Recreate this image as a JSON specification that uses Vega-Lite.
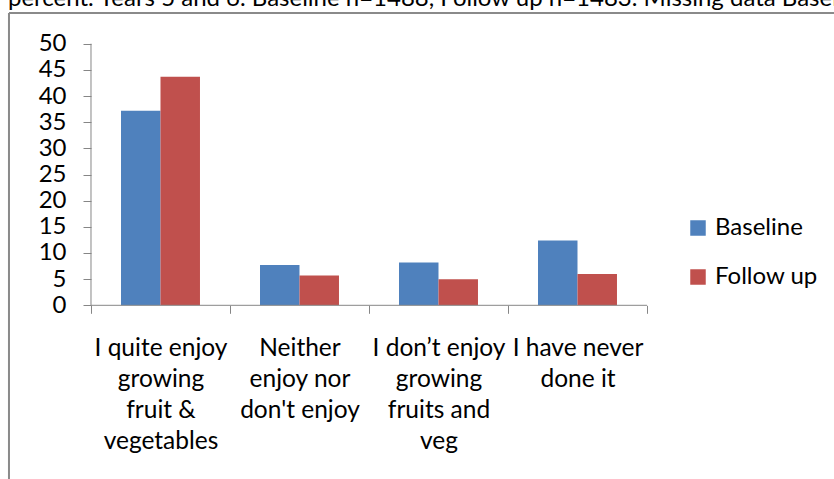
{
  "$schema": "https://vega.github.io/schema/vega-lite/v6.json",
  "width": 825,
  "height": 466,
  "autosize": {"type": "none"},
  "padding": {"left": 9, "top": 13, "right": 0, "bottom": 0},
  "background": "white",
  "title": {
    "text": "percent. Years 5 and 6. Baseline n=1488, Follow up n=1483. Missing data Baseline",
    "anchor": "start",
    "orient": "top",
    "frame": "group",
    "baseline": "alphabetic",
    "offset": 0,
    "dx": -1,
    "dy": 18,
    "font": "Lato",
    "fontSize": 24,
    "fontWeight": "normal",
    "color": "#000"
  },
  "config": {
    "view": {"stroke": null},
    "font": "Lato",
    "axis": {"grid": false, "domain": false, "title": null}
  },
  "layer": [
    {
      "data": {"values": [
        {"response": "I quite enjoy|growing|fruit &|vegetables", "series": "Baseline", "value": 37.2},
        {"response": "I quite enjoy|growing|fruit &|vegetables", "series": "Follow up", "value": 43.7},
        {"response": "Neither|enjoy nor|don't enjoy", "series": "Baseline", "value": 7.7},
        {"response": "Neither|enjoy nor|don't enjoy", "series": "Follow up", "value": 5.7},
        {"response": "I don’t enjoy|growing|fruits and|veg", "series": "Baseline", "value": 8.2},
        {"response": "I don’t enjoy|growing|fruits and|veg", "series": "Follow up", "value": 5.0},
        {"response": "I have never|done it", "series": "Baseline", "value": 12.4},
        {"response": "I have never|done it", "series": "Follow up", "value": 6.0}
      ]},
      "mark": {"type": "bar"},
      "encoding": {
        "x": {
          "field": "response", "type": "nominal", "sort": null,
          "scale": {
            "type": "band",
            "domain": ["I quite enjoy|growing|fruit &|vegetables", "Neither|enjoy nor|don't enjoy", "I don’t enjoy|growing|fruits and|veg", "I have never|done it"],
            "paddingInner": 0, "paddingOuter": 0.9676, "align": 0.3048
          },
          "axis": {
            "orient": "bottom", "offset": -173.7, "domain": false,
            "tickBand": "extent", "tickSize": 8, "tickColor": "#868686", "tickWidth": 1,
            "labelExpr": "datum.value ? split(datum.value, '|') : ''",
            "labelAngle": 0, "labelFontSize": 24.5, "labelColor": "#000",
            "labelLineHeight": 31, "labelPadding": 23, "labelLimit": 300,
            "labelOverlap": false, "labelBaseline": "top", "title": null
          }
        },
        "xOffset": {
          "field": "series", "type": "nominal",
          "scale": {"domain": ["Baseline", "Follow up"], "paddingInner": 0, "paddingOuter": 0.76}
        },
        "y": {
          "field": "value", "type": "quantitative",
          "scale": {"domain": [-33.2, 55.87], "nice": false, "zero": false},
          "axis": {
            "orient": "left", "offset": -82, "domain": false,
            "values": [0, 5, 10, 15, 20, 25, 30, 35, 40, 45, 50],
            "tickSize": 8, "tickColor": "#868686", "tickWidth": 1,
            "labelFontSize": 24, "labelColor": "#000", "labelPadding": 17, "title": null
          }
        },
        "color": {
          "field": "series", "type": "nominal",
          "scale": {"domain": ["Baseline", "Follow up"], "range": ["#4F81BD", "#C0504D"]},
          "legend": {
            "title": null, "orient": "none", "legendX": 677, "legendY": 203,
            "symbolType": "square", "symbolSize": 240, "symbolStrokeWidth": 0,
            "labelFontSize": 24, "labelColor": "#000", "labelOffset": 5,
            "rowPadding": 25, "padding": 0
          }
        }
      }
    },
    {
      "data": {"values": [{}]},
      "mark": {"type": "rule", "color": "#868686", "strokeWidth": 1},
      "encoding": {
        "x": {"datum": "I quite enjoy|growing|fruit &|vegetables", "type": "nominal", "bandPosition": 0},
        "y": {"datum": 0, "type": "quantitative"},
        "y2": {"datum": 50}
      }
    },
    {
      "data": {"values": [{}]},
      "mark": {"type": "rule", "color": "#868686", "strokeWidth": 1},
      "encoding": {
        "x": {"datum": "I quite enjoy|growing|fruit &|vegetables", "type": "nominal", "bandPosition": 0},
        "x2": {"datum": "I have never|done it", "bandPosition": 1},
        "y": {"datum": 0, "type": "quantitative"}
      }
    },
    {
      "data": {"values": [{}]},
      "mark": {"type": "rule", "color": "#8a8a8a", "strokeWidth": 2},
      "encoding": {
        "x": {"datum": "I quite enjoy|growing|fruit &|vegetables", "type": "nominal", "bandPosition": -0.59},
        "y": {"datum": 55.87, "type": "quantitative"},
        "y2": {"datum": -33.2}
      }
    },
    {
      "data": {"values": [{}]},
      "mark": {"type": "rule", "color": "#8a8a8a", "strokeWidth": 2},
      "encoding": {
        "x": {"datum": "I quite enjoy|growing|fruit &|vegetables", "type": "nominal", "bandPosition": -0.59},
        "x2": {"datum": "I have never|done it", "bandPosition": 2.4},
        "y": {"datum": 55.87, "type": "quantitative"}
      }
    }
  ]
}
